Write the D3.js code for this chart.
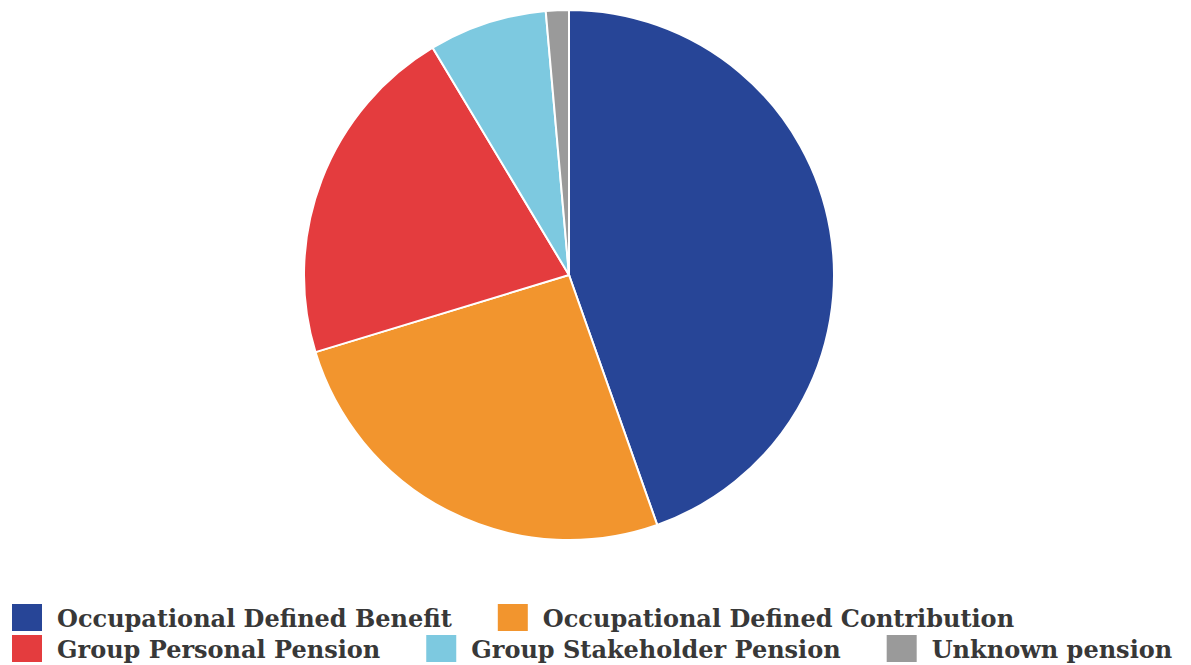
<!DOCTYPE html>
<html>
<head>
<meta charset="utf-8">
<script src="https://cdn.jsdelivr.net/npm/d3@7"></script>
<style>
  body { margin: 0; background: #fff; }
  text { font-family: "DejaVu Serif", serif; font-weight: bold; }
</style>
</head>
<body>
<svg width="1191" height="665"></svg>
<script>
// pension types and their share (percent)
var categories = ["Occupational Defined Benefit", "Occupational Defined Contribution",
                  "Group Personal Pension", "Group Stakeholder Pension", "Unknown pension"];
var shares = [44.6, 25.7, 21.1, 7.2, 1.4];
var colours = ["#274597", "#f2952e", "#e43c3e", "#7dc9e0", "#9a9a9a"];

var svg = d3.select("svg");
var cx = 569, cy = 275, r = 265;

var data = categories.map(function(c, i) { return {name: c, value: shares[i]}; });

var pie = d3.pie().sort(null).value(function(d) { return d.value; });
var arc = d3.arc().innerRadius(0).outerRadius(r);
var colour = d3.scaleOrdinal().domain(categories).range(colours);

var g = svg.append("g").attr("transform", "translate(" + cx + "," + cy + ")");
g.selectAll("path")
  .data(pie(data))
  .enter().append("path")
  .attr("d", arc)
  .attr("fill", function(d) { return colour(d.data.name); })
  .attr("stroke", "#fff")
  .attr("stroke-width", 2);

// legend: flow layout, wraps onto a second row
var legend = svg.append("g");
var fontSize = 24, sw = 30, sh = 27, gap = 46, rowH = 31, maxW = 1188;
var x = 12, row = 0;
data.forEach(function(d) {
  var item = legend.append("g");
  var t = item.append("text")
    .attr("x", sw + 15)
    .attr("y", sh - 4)
    .attr("font-size", fontSize + "px")
    .attr("fill", "#383838")
    .text(d.name);
  var w = sw + 15 + t.node().getComputedTextLength();
  if (x + w > maxW) { row++; x = 12; }
  item.append("rect")
    .attr("width", sw).attr("height", sh)
    .attr("fill", colour(d.name));
  item.attr("transform", "translate(" + x + "," + (604 + row * rowH) + ")");
  x += w + gap;
});
</script>
</body>
</html>
